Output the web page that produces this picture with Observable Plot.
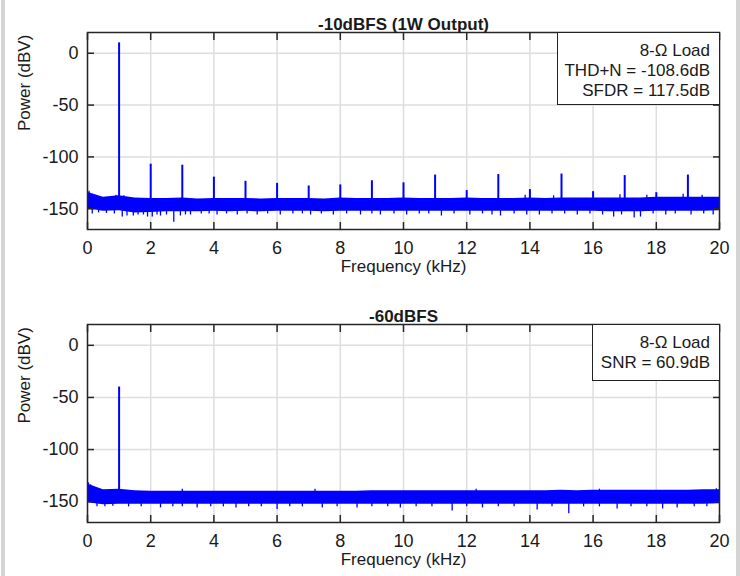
<!DOCTYPE html>
<html>
<head>
<meta charset="utf-8">
<script src="https://cdn.jsdelivr.net/npm/d3@7"></script>
<script src="https://cdn.jsdelivr.net/npm/@observablehq/plot@0.6"></script>
<style>
  html, body { margin: 0; padding: 0; background: #fff; }
  #wrap { position: relative; width: 740px; height: 576px; overflow: hidden; background: #fff;
          font-family: "Liberation Sans", Arial, Helvetica, sans-serif; color: #1a1a1a; }
  .strip { position: absolute; top: 0; height: 576px; width: 4px; background: #d4d4d4; }
  .panel { position: absolute; left: 0; width: 740px; height: 288px; }
  .panel svg { display: block; }
  .legend { position: absolute; box-sizing: border-box; background: #fff; border: 1.5px solid #222;
            text-align: right; font-size: 17px; line-height: 20px; padding: 8px 9px 0 0; white-space: nowrap; }
</style>
</head>
<body>
<div id="wrap">
  <div class="strip" style="left:1px"></div>
  <div class="strip" style="left:736px"></div>
  <div class="panel" id="p1" style="top:0px"></div>
  <div class="panel" id="p2" style="top:288px"></div>
</div>
<script>
// ---------- data ----------
const X_TICKS = [0, 2, 4, 6, 8, 10, 12, 14, 16, 18, 20];
const Y_TICKS = [0, -50, -100, -150];

const TITLE_TOP = "-10dBFS (1W Output)";
const TITLE_BOT = "-60dBFS";
const LEGEND_TOP = ["8-Ω Load", "THD+N = -108.6dB", "SFDR = 117.5dB"];
const LEGEND_BOT = ["8-Ω Load", "SNR = 60.9dB"];

// noise-floor envelope sampled every 0.5 kHz
const NOISE_F = [0, 0.5, 1, 1.5, 2, 2.5, 3, 3.5, 4, 4.5,
                 5, 5.5, 6, 6.5, 7, 7.5, 8, 8.5, 9, 9.5,
                 10, 10.5, 11, 11.5, 12, 12.5, 13, 13.5, 14, 14.5,
                 15, 15.5, 16, 16.5, 17, 17.5, 18, 18.5, 19, 19.5, 20];

const TOP_UPPER = [-134, -139, -137.5, -139.5, -140, -140, -139.5, -140.5, -140, -140,
                   -140, -140.5, -140, -140, -140, -140.5, -139.5, -140, -140, -140,
                   -139.5, -140, -140, -140, -139.5, -140, -140, -140, -139.5, -140,
                   -139.5, -139.5, -139.5, -139.5, -139.5, -139.5, -139, -139, -139, -139, -139];
const TOP_LOWER = [-150, -152.5, -152, -154, -153.5, -153, -153, -153, -152.5, -153,
                   -152.5, -153, -152.5, -152.5, -152.5, -153, -152.5, -152.5, -152.5, -152.5,
                   -152.5, -152.5, -152.5, -152.5, -152.5, -152.5, -152.5, -152.5, -152.5, -152.5,
                   -152.5, -152.5, -152.5, -153, -153, -153, -152.5, -152.5, -152.5, -152.5, -152];

const BOT_UPPER = [-133, -138.5, -138, -139.5, -140, -140, -140, -140, -140, -140,
                   -140, -140, -140, -140, -140, -140, -140, -140, -139.5, -139.5,
                   -139.5, -139.5, -139.5, -139.5, -139.5, -139.5, -139.5, -139.5, -139.5, -139.5,
                   -139, -139.5, -139, -139, -139, -139, -139, -139, -139, -138.5, -138.5];
const BOT_LOWER = [-151, -153, -152.5, -152.5, -152.5, -152.5, -152.5, -152.5, -152.5, -152.5,
                   -152.5, -152.5, -152.5, -152.5, -152.5, -152.5, -152.5, -152.5, -152.5, -152.5,
                   -152.5, -152.5, -152.5, -152.5, -152.5, -152.5, -152.5, -152.5, -152.5, -152.5,
                   -152.5, -152.5, -152.5, -152.5, -152.5, -152.5, -152.5, -152.5, -152.5, -152.5, -152];

// tones: [frequency kHz, peak dBV]
const TOP_TONES = [[1, 10], [2, -107], [3, -108], [4, -119.5], [5, -123.5], [6, -125.5],
                   [7, -128], [8, -127], [9, -123], [10, -125], [11, -117.5], [12, -132.5],
                   [13, -117], [14, -131.5], [15, -116.5], [16, -133.5], [17, -118],
                   [18, -134.5], [19, -117.5]];
const BOT_TONES = [[1, -40]];

// small upward noise spikes
const TOP_BUMPS = [[0.05, -133], [0.9, -137], [1.15, -137.5], [13.85, -137], [14.75, -137.5],
                   [16.85, -136.5], [17.7, -137], [18.85, -136], [19.45, -137]];
const BOT_BUMPS = [[0.03, -132], [0.1, -134], [3.0, -138], [7.2, -138], [12.3, -138], [16.2, -138], [19.9, -137.5]];

// downward noise excursions
const TOP_DIPS = [[0.15, -155], [0.35, -154], [0.6, -154.5], [0.85, -155], [1.1, -158], [1.25, -157],
  [1.45, -157], [1.6, -156], [1.77, -156], [1.9, -158], [2.05, -158], [2.2, -156], [2.31, -157],
  [2.5, -156], [2.73, -163], [2.94, -157], [3.1, -156], [3.26, -156], [3.6, -155], [3.85, -155],
  [4.1, -156], [4.4, -155], [4.74, -156], [5.05, -155], [5.37, -156], [5.7, -155], [6.1, -156],
  [6.5, -155], [6.8, -155], [7.06, -156], [7.4, -155], [7.78, -156], [8.2, -155], [8.64, -156],
  [9.0, -155], [9.27, -156], [9.7, -155], [10.1, -156], [10.5, -155], [10.8, -155], [11.2, -157],
  [11.6, -155], [12.1, -156], [12.5, -155], [12.8, -156], [13.07, -157], [13.5, -155], [13.9, -156],
  [14.3, -156], [14.7, -155], [15.1, -155], [15.5, -156], [15.9, -155], [16.3, -156], [16.65, -158],
  [16.9, -156], [17.3, -159], [17.5, -158], [17.9, -155], [18.3, -156], [18.6, -155], [19.1, -156],
  [19.5, -155], [19.8, -156]];
const BOT_DIPS = [[0.3, -155], [0.55, -155], [0.8, -154.5], [1.3, -155], [1.7, -155], [2.31, -156],
  [2.7, -155], [3.0, -155], [3.47, -156], [3.9, -155], [4.3, -155], [4.7, -156], [5.1, -155],
  [5.5, -155], [6.0, -157.5], [6.4, -155], [6.8, -155], [7.43, -156], [7.9, -155], [8.53, -156],
  [9.0, -155], [9.5, -155], [9.9, -156], [10.4, -155], [10.9, -155], [11.54, -159], [12.0, -155],
  [12.5, -156], [13.0, -155], [13.5, -155], [14.23, -158], [14.7, -155], [15.23, -161.5],
  [15.7, -155], [16.2, -155], [16.76, -157], [17.2, -155], [17.7, -155], [18.2, -157],
  [18.66, -156], [19.2, -155], [19.6, -155]];

// ---------- drawing ----------
const BLUE = "#0000ff";
const FONT = '"Liberation Sans", Arial, Helvetica, sans-serif';
const fmt = d => String(d);

function panel(opts) {
  const noise = NOISE_F.map((f, i) => ({f, lo: opts.lower[i], hi: opts.upper[i]}));
  const rows = a => a.map(([f, v]) => ({f, v}));
  return Plot.plot({
    width: 740,
    height: 288,
    marginTop: opts.marginTop,
    marginBottom: opts.marginBottom,
    marginLeft: 87,
    marginRight: 21,
    style: {fontFamily: FONT, fontSize: "17px", color: "#1a1a1a", background: "transparent", overflow: "visible"},
    x: {domain: [0, 20], ticks: X_TICKS, label: null},
    y: {domain: [-170, 20], ticks: Y_TICKS, label: null},
    marks: [
      Plot.gridX(X_TICKS, {stroke: "#dedede", strokeOpacity: 1, strokeWidth: 1.5}),
      Plot.gridY(Y_TICKS, {stroke: "#dedede", strokeOpacity: 1, strokeWidth: 1.5}),
      Plot.areaY(noise, {x: "f", y1: "lo", y2: "hi", fill: BLUE}),
      Plot.ruleX(rows(opts.dips), {x: "f", y1: -149, y2: "v", stroke: BLUE, strokeWidth: 1.3}),
      Plot.ruleX(rows(opts.bumps), {x: "f", y1: -145, y2: "v", stroke: BLUE, strokeWidth: 1.3}),
      Plot.ruleX(rows(opts.tones), {x: "f", y1: -145, y2: "v", stroke: BLUE, strokeWidth: 2}),
      Plot.frame({stroke: "#262626", strokeWidth: 1.5}),
      Plot.axisX(X_TICKS, {anchor: "bottom", tickSize: 0, tickPadding: 12, fontSize: 18, tickFormat: fmt, label: null}),
      Plot.axisX(X_TICKS, {anchor: "bottom", tickSize: -7, tickFormat: () => "", label: null, strokeWidth: 1.5, stroke: "#262626"}),
      Plot.axisX(X_TICKS, {anchor: "top", tickSize: -7, tickFormat: () => "", label: null, strokeWidth: 1.5, stroke: "#262626"}),
      Plot.axisY(Y_TICKS, {anchor: "left", tickSize: 0, tickPadding: 9, fontSize: 18, tickFormat: fmt, label: null}),
      Plot.axisY(Y_TICKS, {anchor: "left", tickSize: -7, tickFormat: () => "", label: null, strokeWidth: 1.5, stroke: "#262626"}),
      Plot.axisY(Y_TICKS, {anchor: "right", tickSize: -7, tickFormat: () => "", label: null, strokeWidth: 1.5, stroke: "#262626"}),
      Plot.text([opts.title], {frameAnchor: "top", dy: -15, fontWeight: "bold", fontSize: 17, fill: "#1a1a1a"}),
      Plot.text(["Frequency (kHz)"], {frameAnchor: "bottom", dy: 42.5, fontSize: 17, fill: "#1a1a1a"}),
      Plot.text(["Power (dBV)"], {frameAnchor: "left", dx: -63, rotate: -90, fontSize: 17, fill: "#1a1a1a"})
    ]
  });
}

function legend(lines, style) {
  const d = document.createElement("div");
  d.className = "legend";
  Object.assign(d.style, style);
  d.innerHTML = lines.map(t => `<div>${t}</div>`).join("");
  return d;
}

const p1 = document.getElementById("p1");
p1.append(panel({title: TITLE_TOP, marginTop: 32, marginBottom: 59,
  upper: TOP_UPPER, lower: TOP_LOWER, tones: TOP_TONES, bumps: TOP_BUMPS, dips: TOP_DIPS}));
p1.append(legend(LEGEND_TOP, {left: "557px", top: "32px", width: "163px", height: "73px"}));

const p2 = document.getElementById("p2");
p2.append(panel({title: TITLE_BOT, marginTop: 36, marginBottom: 54,
  upper: BOT_UPPER, lower: BOT_LOWER, tones: BOT_TONES, bumps: BOT_BUMPS, dips: BOT_DIPS}));
p2.append(legend(LEGEND_BOT, {left: "592px", top: "36px", width: "128px", height: "57px"}));
</script>
</body>
</html>
